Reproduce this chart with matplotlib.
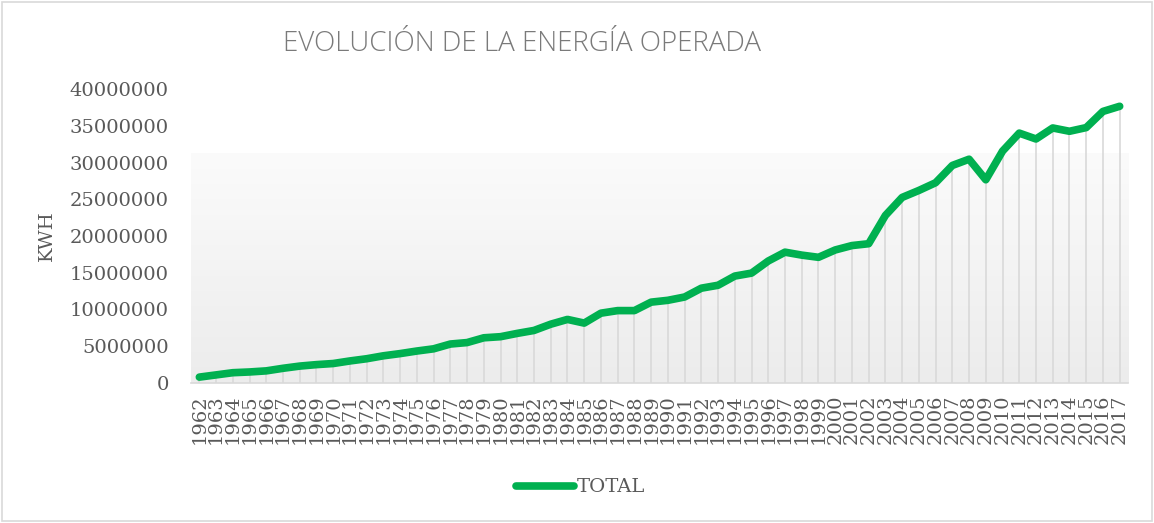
import numpy as np
import matplotlib
matplotlib.use("Agg")
import matplotlib.pyplot as plt
from matplotlib.patches import Rectangle
from matplotlib.lines import Line2D

# annual operated energy, kWh
years = list(range(1962, 2018))
total = [
    800000, 1100000, 1400000, 1500000, 1650000, 2000000, 2300000, 2500000, 2650000, 3000000,
    3300000, 3700000, 4000000, 4350000, 4650000, 5300000, 5500000, 6150000, 6300000, 6750000,
    7150000, 8000000, 8650000, 8150000, 9500000, 9850000, 9850000, 11000000, 11250000, 11700000,
    12900000, 13300000, 14550000, 14950000, 16600000, 17800000, 17400000, 17100000, 18100000, 18700000,
    18950000, 22800000, 25250000, 26200000, 27250000, 29600000, 30450000, 27650000, 31550000, 34000000,
    33200000, 34700000, 34250000, 34750000, 36950000, 37650000,
]
title = "EVOLUCIÓN DE LA ENERGÍA OPERADA"
series_name = "TOTAL"
y_label = "KWH"

GREEN = "#00b050"
GREY_TXT = "#595959"
GREY_LINE = "#d9d9d9"
SERIF = ["DejaVu Serif"]

fig = plt.figure(figsize=(11.54, 5.23), dpi=100)
ax = fig.add_axes([0.1655, 0.2677, 0.812, 0.5621])

x = np.arange(len(years))
# plot-area gradient (white on top fading to light grey at the bottom)
grad = np.linspace(0, 1, 256).reshape(-1, 1)
cmap = matplotlib.colors.LinearSegmentedColormap.from_list("g", ["#ececec", "#fbfbfb"])
ax.imshow(grad, extent=(0, 1, 0, 0.782), transform=ax.transAxes, cmap=cmap,
          aspect="auto", origin="lower", zorder=0)

ax.vlines(x, 0, total, color=GREY_LINE, lw=1.2, zorder=1)
ax.plot(x, total, color=GREEN, lw=5.5, solid_capstyle="round", solid_joinstyle="round", zorder=3)

ax.set_xlim(-0.5, len(years) - 0.5)
ax.set_ylim(0, 40000000)
ax.set_yticks(np.arange(0, 40000001, 5000000))
ax.set_yticklabels([f"{v:d}" for v in range(0, 40000001, 5000000)])
ax.set_xticks(x)
ax.set_xticklabels([str(y) for y in years], rotation=90)
for lab in ax.get_xticklabels() + ax.get_yticklabels():
    lab.set_family(SERIF)
    lab.set_fontsize(14)
    lab.set_color(GREY_TXT)
ax.tick_params(axis="both", length=0)
ax.tick_params(axis="y", pad=16)
ax.tick_params(axis="x", pad=8)
for s in ("top", "right", "left"):
    ax.spines[s].set_visible(False)
ax.spines["bottom"].set_color(GREY_LINE)
ax.spines["bottom"].set_linewidth(1.2)
ax.set_facecolor("white")

fig.text(0.041, 0.549, y_label, rotation=90, ha="center", va="center",
         family=SERIF, fontsize=14, color=GREY_TXT)
fig.text(0.4523, 0.916, title, ha="center", va="center",
         family=["Open Sans"], fontsize=20, color="#7a7a7a", fontweight="light")

handle = Line2D([], [], color=GREEN, lw=5.5, solid_capstyle="round")
leg = fig.legend([handle], [series_name], loc="center", bbox_to_anchor=(0.503, 0.068),
                 frameon=False, handlelength=3.0, handletextpad=0.1,
                 prop={"family": SERIF, "size": 14})
for t in leg.get_texts():
    t.set_color(GREY_TXT)

fig.patches.append(Rectangle((0.0015, 0.003), 0.997, 0.994, transform=fig.transFigure,
                             fill=False, edgecolor=GREY_LINE, lw=1.2))

fig.savefig("out.png", dpi=100)
